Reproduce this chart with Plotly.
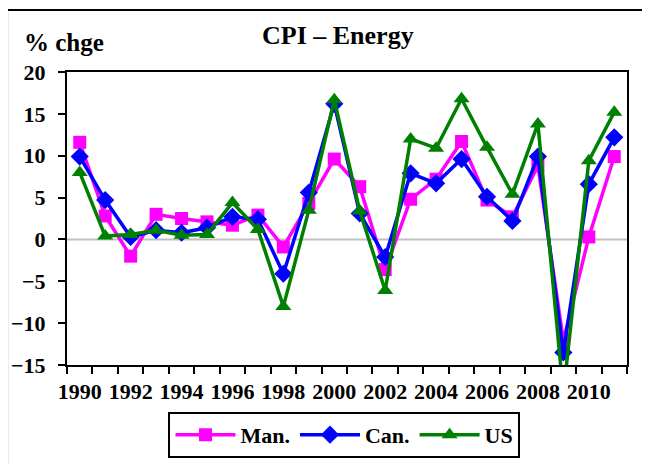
import plotly.graph_objects as go

# Datos (% cambio anual, IPC energía)
years = [str(y) for y in range(1990, 2012)]
man = [11.6, 2.8, -2.0, 3.0, 2.5, 2.1, 1.7, 2.9, -0.9, 4.3, 9.6, 6.3, -3.6, 4.8,
       7.2, 11.7, 4.7, 2.7, 8.8, -12.1, 0.3, 9.9]
can = [9.9, 4.7, 0.3, 1.1, 0.8, 1.4, 2.7, 2.4, -4.1, 5.6, 16.2, 3.1, -2.1, 7.9,
       6.7, 9.6, 5.1, 2.2, 9.9, -13.5, 6.6, 12.2]
us = [8.0, 0.4, 0.6, 1.1, 0.5, 0.6, 4.4, 1.2, -8.0, 3.5, 16.7, 3.4, -6.1, 12.0,
      10.9, 16.8, 11.0, 5.4, 13.8, -18.4, 9.4, 15.2]
tick_text = [y if int(y) % 2 == 0 else "" for y in years]

FONT = "Liberation Serif"

fig = go.Figure()

# línea de cero gris
fig.add_shape(type="line", xref="paper", yref="y", x0=0, x1=1, y0=0, y1=0,
              line=dict(color="#c0c0c0", width=2), layer="below")

series = [
    ("Man.", man, "#ff00ff", "square", 13),
    ("Can.", can, "#0000ff", "diamond", 14),
    ("US", us, "#008000", "triangle-up", 14),
]
for name, vals, color, symbol, size in series:
    fig.add_trace(go.Scatter(
        x=years, y=vals, name=name, mode="lines+markers",
        line=dict(color=color, width=3.5),
        marker=dict(color=color, symbol=symbol, size=size),
    ))

fig.update_xaxes(
    type="category", range=[-0.5, len(years) - 0.5],
    tickmode="array", tickvals=years, ticktext=tick_text, tickangle=0,
    tickson="boundaries", ticks="outside", ticklen=7, tickwidth=2, tickcolor="black",
    showline=True, linecolor="black", linewidth=2, mirror=True, showgrid=False,
    automargin=False, ticklabelstandoff=6,
    tickfont=dict(family=FONT, size=22, color="black", weight="bold"),
)
fig.update_yaxes(
    range=[-15, 20], dtick=5, ticks="outside", ticklen=7, tickwidth=2, tickcolor="black",
    showline=True, linecolor="black", linewidth=2, mirror=True, showgrid=False,
    zeroline=False, automargin=False, ticklabelstandoff=8,
    tickfont=dict(family=FONT, size=22, color="black", weight="bold"),
)

# marco exterior
fig.add_shape(type="rect", xref="paper", yref="paper", x0=-0.107, x1=1.06, y0=-0.4, y1=1.212,
              line=dict(color="black", width=2), fillcolor="rgba(0,0,0,0)")

fig.add_annotation(text="<b>CPI – Energy</b>", xref="paper", yref="paper", x=0.484, y=1.123,
                   yanchor="middle", showarrow=False,
                   font=dict(family=FONT, size=26, color="black"))
fig.add_annotation(text="<b>% chge</b>", xref="paper", yref="paper", x=-0.08, y=1.099,
                   xanchor="left", yanchor="middle", showarrow=False,
                   font=dict(family=FONT, size=25, color="black"))

fig.update_layout(
    width=642, height=456,
    margin=dict(l=59, r=23, t=64, b=99, autoexpand=False),
    paper_bgcolor="white", plot_bgcolor="white",
    showlegend=True,
    legend=dict(orientation="h", x=0.4955, xanchor="center", y=-0.16, yanchor="top",
                bordercolor="black", borderwidth=2, itemwidth=60,
                font=dict(family=FONT, size=22, color="black", weight="bold")),
)

fig.write_html("out.html")
